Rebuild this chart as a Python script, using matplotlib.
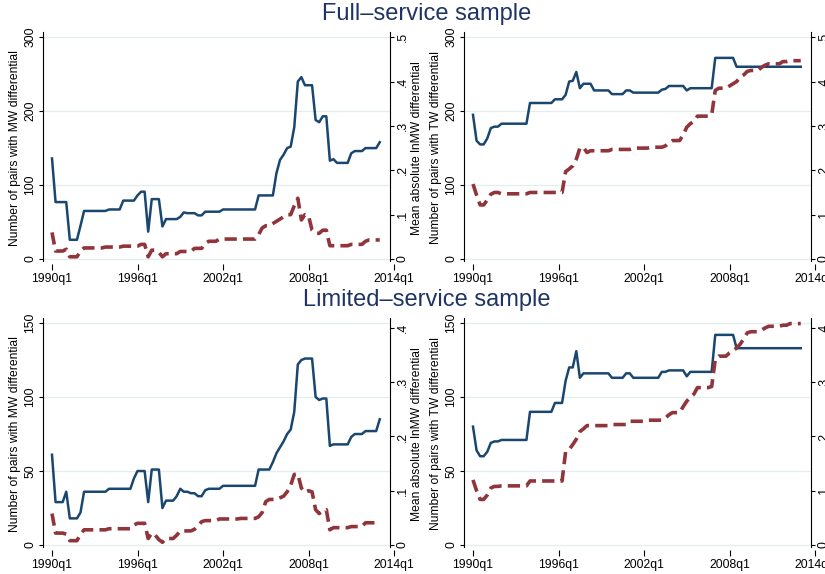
import numpy as np
import pandas as pd
import matplotlib.pyplot as plt

plt.rcParams['font.family'] = ['Liberation Sans', 'DejaVu Sans']

# quarterly observations, 1990q1 .. 2013q1
periods = pd.period_range('1990Q1', '2013Q1', freq='Q')
t = periods.year + (periods.quarter - 1) / 4

# Full-service sample: number of pairs with MW differential (left axis)
fs_mw_pairs = [
    136, 77, 77, 77,     77, 26, 26, 26,     45, 65, 65, 65,     65, 65, 65, 65,
    67, 67, 67, 67,      79, 79, 79, 79,     86, 91, 91, 37,     81, 81, 81, 44,
    54, 54, 54, 54,      57, 63, 62, 62,     62, 59, 59, 64,     64, 64, 64, 64,
    67, 67, 67, 67,      67, 67, 67, 67,     67, 67, 86, 86,     86, 86, 86, 116,
    134, 141, 150, 152,  178, 240, 246, 235, 235, 235, 188, 185, 193, 193, 133, 135,
    130, 130, 130, 130,  143, 146, 146, 146, 150, 150, 150, 150, 158,
]
# Full-service sample: mean absolute lnMW differential (right axis)
fs_mw_diff = [
    .06, .018, .018, .018,  .022, .005, .005, .005,  .018, .025, .025, .025,  .025, .025, .025, .027,
    .027, .027, .027, .027, .029, .029, .029, .029,  .029, .033, .033, .005,  .02, .02, .015, .005,
    .012, .012, .012, .012, .017, .017, .017, .017,  .024, .024, .024, .035,  .04, .04, .04, .045,
    .045, .045, .045, .045, .045, .045, .045, .045,  .045, .045, .055, .07,   .075, .075, .08, .085,
    .09, .095, .1, .1,      .12, .137, .088, .1,     .098, .065, .058, .058,  .065, .065, .03, .03,
    .03, .03, .03, .03,     .033, .033, .033, .033,  .04, .043, .043, .043,   .043,
]
# Full-service sample: number of pairs with TW differential
fs_tw_pairs = [
    195, 160, 155, 155,  163, 177, 179, 179,  183, 183, 183, 183,  183, 183, 183, 183,
    211, 211, 211, 211,  211, 211, 211, 216,  216, 216, 222, 240,  241, 253, 231, 237,
    237, 237, 228, 228,  228, 228, 228, 223,  223, 223, 223, 228,  228, 225, 225, 225,
    225, 225, 225, 225,  225, 229, 230, 234,  234, 234, 234, 234,  228, 231, 231, 231,
    231, 231, 231, 231,  272, 272, 272, 272,  272, 272, 260, 260,  260, 260, 260, 260,
    260, 260, 260, 260,  260, 260, 260, 260,  260, 260, 260, 260,  260,
]
# Full-service sample: mean absolute lnTW differential
fs_tw_diff = [
    .169, .144, .122, .122, .133, .146, .15, .15,    .147, .147, .147, .147, .147, .147, .147, .147,
    .15, .15, .15, .15,     .15, .15, .15, .15,      .15, .15, .197, .203,   .21, .225, .25, .252,
    .24, .244, .244, .244,  .244, .244, .244, .247,  .247, .247, .247, .247, .247, .25, .25, .25,
    .25, .25, .252, .252,   .252, .252, .255, .262,  .267, .267, .267, .28,  .297, .305, .31, .322,
    .322, .322, .322, .325, .38, .385, .385, .385,   .39, .395, .4, .41,     .415, .423, .425, .425,
    .425, .432, .437, .44,  .44, .44, .44, .445,     .445, .447, .447, .447, .447,
]
# Limited-service sample: number of pairs with MW differential
ls_mw_pairs = [
    61, 29, 29, 29,     36, 18, 18, 18,     22, 36, 36, 36,     36, 36, 36, 36,
    38, 38, 38, 38,     38, 38, 38, 45,     50, 50, 50, 29,     51, 51, 51, 25,
    30, 30, 30, 33,     38, 36, 36, 35,     35, 33, 33, 37,     38, 38, 38, 38,
    40, 40, 40, 40,     40, 40, 40, 40,     40, 40, 51, 51,     51, 51, 56, 62,
    66, 70, 75, 78,     90, 122, 125, 126,  126, 126, 100, 98,  99, 99, 67, 68,
    68, 68, 68, 68,     73, 75, 75, 75,     77, 77, 77, 77,     85,
]
# Limited-service sample: mean absolute lnMW differential
ls_mw_diff = [
    .058, .022, .022, .022, .02, .008, .008, .008,   .02, .028, .028, .028,  .028, .028, .028, .028,
    .03, .03, .03, .03,     .03, .03, .03, .037,     .04, .04, .04, .012,    .022, .018, .01, .005,
    .012, .012, .012, .018, .026, .026, .026, .026,  .029, .035, .043, .045, .045, .045, .045, .048,
    .048, .048, .048, .048, .048, .049, .049, .049,  .049, .049, .052, .06,  .08, .084, .084, .084,
    .087, .09, .098, .11,   .13, .131, .105, .097,   .1, .098, .065, .058,    .063, .065, .028, .032,
    .032, .032, .032, .032, .034, .034, .034, .034,  .041, .041, .041, .041, .041,
]
# Limited-service sample: number of pairs with TW differential
ls_tw_pairs = [
    80, 64, 60, 60,     63, 69, 70, 70,     71, 71, 71, 71,     71, 71, 71, 71,
    90, 90, 90, 90,     90, 90, 90, 96,     96, 96, 111, 120,   120, 131, 113, 116,
    116, 116, 116, 116, 116, 116, 116, 113, 113, 113, 113, 116, 116, 113, 113, 113,
    113, 113, 113, 113, 113, 117, 117, 118, 118, 118, 118, 118, 114, 117, 117, 117,
    117, 117, 117, 117, 142, 142, 142, 142, 142, 142, 133, 133, 133, 133, 133, 133,
    133, 133, 133, 133, 133, 133, 133, 133, 133, 133, 133, 133, 133,
]
# Limited-service sample: mean absolute lnTW differential
ls_tw_diff = [
    .12, .1, .084, .084,    .092, .105, .108, .108,  .109, .109, .109, .109, .109, .109, .109, .109,
    .118, .118, .118, .118, .118, .118, .118, .118,  .118, .118, .172, .176, .185, .195, .209, .214,
    .22, .22, .22, .22,     .22, .22, .22, .222,     .222, .222, .222, .222, .228, .228, .228, .228,
    .228, .23, .23, .23,    .23, .23, .234, .24,     .244, .244, .244, .255, .265, .272, .278, .29,
    .29, .29, .29, .292,    .342, .348, .348, .348,  .354, .358, .363, .37,  .38, .391, .393, .393,
    .393, .396, .4, .403,   .403, .403, .403, .405,  .405, .408, .408, .408, .408,
]

x_ticks = [1990, 1996, 2002, 2008, 2014]
x_labels = ['1990q1', '1996q1', '2002q1', '2008q1', '2014q1']

NAVY = '#1a476f'
MAROON = '#90353b'
GRID = '#e3ecef'
TITLE_COL = '#1f3464'
FS = 8.7

W, H = 825, 574
PX_YR = 14.25
X0 = 1990 - 9 / PX_YR          # left edge of plot region
X1 = 1990 + 345 / PX_YR        # leaves room for the 2014q1 tick
XSPINE = 1990 + 338 / PX_YR    # right axis line

fig = plt.figure(figsize=(W / 100, H / 100), dpi=100, facecolor='white')


def px_rect(left, top, right, bottom):
    return [left / W, 1 - bottom / H, (right - left) / W, (bottom - top) / H]


def draw_panel(rect, pairs, diff, ylim, yticks, scale, rticks, rlabels,
               ylab_l, ylab_r, xl, xr, yc):
    ax = fig.add_axes(rect)
    ax2 = ax.twinx()
    ax.set_xlim(X0, X1)
    ax.set_ylim(*ylim)
    ax2.set_ylim(ylim[0] * scale, ylim[1] * scale)

    ax.hlines(yticks, X0, XSPINE, color=GRID, lw=0.9, zorder=0)
    ax.plot(t, pairs, color=NAVY, lw=1.8)
    ax2.plot(t, diff, color=MAROON, lw=2.6, dashes=(3.4, 1.7))

    for a in (ax, ax2):
        a.set_facecolor('none')
        a.spines['top'].set_visible(False)
    ax.spines['right'].set_visible(False)
    ax2.spines['left'].set_visible(False)
    ax2.spines['bottom'].set_visible(False)
    ax.spines['bottom'].set_position(('outward', 2.5))
    ax.spines['bottom'].set_color('none')
    ax.spines['left'].set_linewidth(0.8)
    ax2.spines['right'].set_linewidth(0.8)
    ax2.spines['right'].set_position(('data', XSPINE))

    ax.set_xticks(x_ticks)
    ax.set_xticklabels(x_labels)
    ax.tick_params(axis='x', length=4, width=0.8, pad=2.5, labelsize=FS, color='black')

    ax.set_yticks(yticks)
    ax.set_yticklabels([str(v) for v in yticks])
    ax.tick_params(axis='y', length=3, width=0.8, pad=2, labelsize=FS, labelrotation=90)
    for lab in ax.get_yticklabels():
        lab.set_va('center')

    ax2.set_yticks(rticks)
    ax2.set_yticklabels(rlabels)
    ax2.tick_params(axis='y', length=3, width=0.8, pad=2, labelsize=FS, labelrotation=90)
    for lab in ax2.get_yticklabels():
        lab.set_va('center')

    fig.text(xl / W, 1 - yc / H, ylab_l, rotation=90, ha='center', va='center', fontsize=FS)
    if ylab_r:
        fig.text(xr / W, 1 - yc / H, ylab_r, rotation=90, ha='center', va='center', fontsize=FS)


top_row = dict(ylim=(-2, 307), yticks=[0, 100, 200, 300], scale=0.5 / 300,
               rticks=[0, .1, .2, .3, .4, .5], rlabels=['0', '.1', '.2', '.3', '.4', '.5'])
bot_row = dict(ylim=(-1, 153.4), yticks=[0, 50, 100, 150], scale=0.409 / 150,
               rticks=[0, .1, .2, .3, .4], rlabels=['0', '.1', '.2', '.3', '.4'])

# the right-hand panels' right axis title falls outside the picture in the original
DX = 421
draw_panel(px_rect(43, 32, 397, 260.5), fs_mw_pairs, fs_mw_diff,
           ylab_l='Number of pairs with MW differential',
           ylab_r='Mean absolute lnMW differential', xl=15, xr=417, yc=148, **top_row)
draw_panel(px_rect(43 + DX, 32, 397 + DX, 260.5), fs_tw_pairs, fs_tw_diff,
           ylab_l='Number of pairs with TW differential',
           ylab_r=None, xl=15 + DX, xr=417 + DX, yc=148, **top_row)
draw_panel(px_rect(43, 318, 397, 546.5), ls_mw_pairs, ls_mw_diff,
           ylab_l='Number of pairs with MW differential',
           ylab_r='Mean absolute lnMW differential', xl=15, xr=417, yc=434, **bot_row)
draw_panel(px_rect(43 + DX, 318, 397 + DX, 546.5), ls_tw_pairs, ls_tw_diff,
           ylab_l='Number of pairs with TW differential',
           ylab_r=None, xl=15 + DX, xr=417 + DX, yc=434, **bot_row)

fig.text(427 / W, 1 - 20 / H, 'Full–service sample', ha='center', va='baseline',
         fontsize=17, color=TITLE_COL)
fig.text(427 / W, 1 - 306 / H, 'Limited–service sample', ha='center', va='baseline',
         fontsize=17, color=TITLE_COL)

fig.savefig('out.png', dpi=100, facecolor='white')
